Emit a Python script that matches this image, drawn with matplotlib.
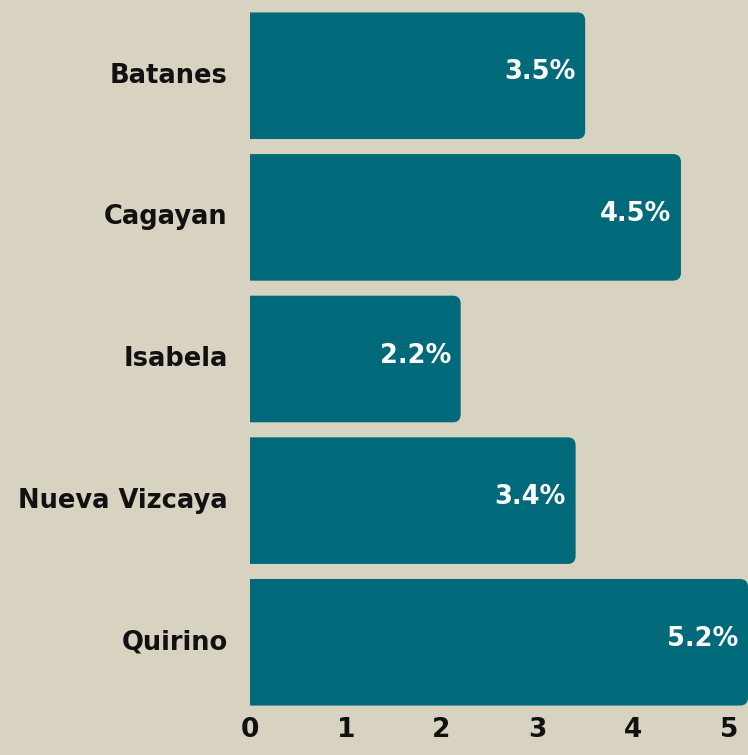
import matplotlib
matplotlib.use("Agg")
import matplotlib.pyplot as plt
import matplotlib.transforms as mtransforms
from matplotlib.patches import FancyBboxPatch

provinces = ["Batanes", "Cagayan", "Isabela", "Nueva Vizcaya", "Quirino"]
values = [3.5, 4.5, 2.2, 3.4, 5.2]
xticks = [0, 1, 2, 3, 4, 5]

BG = "#d7d3c0"
BAR = "#006a7b"
plt.rcParams['font.family'] = ['DejaVu Sans']

W, H = 748, 755
fig = plt.figure(figsize=(W/100, H/100), dpi=100, facecolor=BG)
ax = fig.add_axes([250/W, 1-706/H, 498/W, 694/H])
ax.set_facecolor(BG)
ax.set_xlim(0, 5.2)
ax.set_ylim(4.45, -0.45)

xpp = 5.2/498
ypp = 4.9/694
r = 8*xpp
h = 0.894
for i, v in enumerate(values):
    p = FancyBboxPatch((-3*r, i-h/2), v+3*r, h, boxstyle=f"round,pad=0,rounding_size={r}",
                       mutation_aspect=ypp/xpp, facecolor=BAR, edgecolor='none')
    ax.add_patch(p)
    ax.annotate(f"{v}%", (v, i), xytext=(-7, 2.5), textcoords='offset points',
                ha='right', va='center', color='white', fontsize=18.5, fontweight='bold')

ax.set_yticks(range(len(provinces)))
ax.set_yticklabels(provinces, fontsize=18.5, fontweight='bold', color='#111111')
ax.set_xticks(xticks)
ax.set_xticklabels([str(t) for t in xticks], fontsize=19, fontweight='bold', color='#111111')
ax.tick_params(axis='y', length=0, pad=16)
ax.tick_params(axis='x', length=0, pad=8)
off = mtransforms.ScaledTranslation(0, 3/100, fig.dpi_scale_trans)
for lab in ax.get_yticklabels():
    lab.set_transform(lab.get_transform() + off)
for s in ax.spines.values():
    s.set_visible(False)

fig.savefig("out.png", dpi=100, facecolor=BG)
